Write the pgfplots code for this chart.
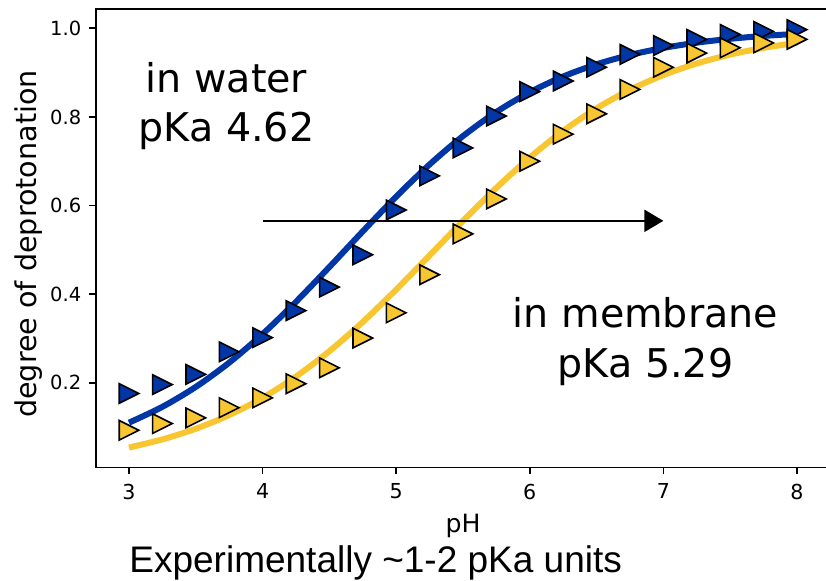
\documentclass[border=0pt]{standalone}
\usepackage{fontspec}
\setmainfont{DejaVu Sans}
\newfontfamily\lib{Liberation Sans}
\usepackage{pgfplots}
\pgfplotsset{compat=1.18}
\usetikzlibrary{arrows.meta}
\definecolor{cblue}{HTML}{0036A6}
\definecolor{cyel}{HTML}{F8C630}
\pgfdeclareplotmark{rtri}{%
  \pgfpathmoveto{\pgfqpoint{\pgfplotmarksize}{0pt}}%
  \pgfpathlineto{\pgfqpoint{-\pgfplotmarksize}{\pgfplotmarksize}}%
  \pgfpathlineto{\pgfqpoint{-\pgfplotmarksize}{-\pgfplotmarksize}}%
  \pgfpathclose\pgfusepathqfillstroke}
\begin{document}
\begin{tikzpicture}
\begin{axis}[
  at={(0,0)}, anchor=south west,
  scale only axis, width=367.4pt, height=229.25pt,
  xmin=2.75, xmax=8.25, ymin=0.009, ymax=1.0435,
  xtick={3,4,5,6,7,8},
  ytick={0.2,0.4,0.6,0.8,1.0},
  yticklabels={0.2,0.4,0.6,0.8,1.0},
  tick align=outside, major tick length=3.5pt,
  xtick pos=left, ytick pos=left,
  tick style={black, line width=0.8pt},
  axis line style={line width=0.9pt},
  tick label style={font=\fontsize{9.75}{11}\selectfont},
  xticklabel style={font=\fontsize{10.3}{12}\selectfont},
  /pgf/number format/assume math mode=true,
  yticklabel style={anchor=east, inner sep=0pt, xshift=-3.5pt},
  xticklabel style={anchor=north, inner sep=0pt, yshift=-4.5pt},
]
% fitted curves
\addplot[cblue, line width=3pt, smooth] coordinates {
(3.00,0.1101)(3.25,0.1459)(3.50,0.1908)(3.75,0.2456)(4.00,0.3101)(4.25,0.3829)
(4.50,0.4614)(4.75,0.5418)(5.00,0.6202)(5.25,0.6927)(5.50,0.7568)(5.75,0.8112)
(6.00,0.8557)(6.25,0.8912)(6.50,0.9187)(6.75,0.9398)(7.00,0.9556)(7.25,0.9675)
(7.50,0.9762)(7.75,0.9827)(8.00,0.9874)};
\addplot[cyel, line width=3pt, smooth] coordinates {
(3.00,0.0540)(3.25,0.0724)(3.50,0.0964)(3.75,0.1273)(4.00,0.1662)(4.25,0.2142)
(4.50,0.2714)(4.75,0.3374)(5.00,0.4104)(5.25,0.4875)(5.50,0.5653)(5.75,0.6399)
(6.00,0.7084)(6.25,0.7685)(6.50,0.8194)(6.75,0.8612)(7.00,0.8945)(7.25,0.9205)
(7.50,0.9406)(7.75,0.9558)(8.00,0.9673)};
% measured points
\addplot[only marks, mark=rtri, mark size=4.9pt, mark options={fill=cblue, draw=black, line width=0.8pt}] coordinates {
(3.00,0.176)(3.25,0.196)(3.50,0.219)(3.75,0.270)(4.00,0.302)(4.25,0.363)
(4.50,0.416)(4.75,0.489)(5.00,0.590)(5.25,0.667)(5.50,0.730)(5.75,0.802)
(6.00,0.857)(6.25,0.881)(6.50,0.912)(6.75,0.941)(7.00,0.961)(7.25,0.975)
(7.50,0.986)(7.75,0.993)(8.00,0.997)};
\addplot[only marks, mark=rtri, mark size=4.9pt, mark options={fill=cyel, draw=black, line width=0.8pt}] coordinates {
(3.00,0.093)(3.25,0.108)(3.50,0.121)(3.75,0.144)(4.00,0.166)(4.25,0.198)
(4.50,0.234)(4.75,0.301)(5.00,0.358)(5.25,0.444)(5.50,0.536)(5.75,0.615)
(6.00,0.700)(6.25,0.761)(6.50,0.807)(6.75,0.862)(7.00,0.912)(7.25,0.944)
(7.50,0.956)(7.75,0.967)(8.00,0.975)};
\draw[line width=1pt, -{Triangle[length=9.5pt,width=11pt]}] (axis cs:4.0,0.5655) -- (axis cs:7.0,0.5655);
\node[anchor=base, inner sep=0pt, font=\fontsize{19.8}{24}\selectfont] at (axis cs:3.73,0.856) {in water};
\node[anchor=base, inner sep=0pt, font=\fontsize{19.8}{24}\selectfont] at (axis cs:3.73,0.744) {pKa 4.62};
\node[anchor=base, inner sep=0pt, font=\fontsize{19.8}{24}\selectfont] at (axis cs:6.866,0.324) {in membrane};
\node[anchor=base, inner sep=0pt, font=\fontsize{19.8}{24}\selectfont] at (axis cs:6.866,0.212) {pKa 5.29};
\end{axis}
\node[anchor=base, inner sep=0pt, font=\fontsize{12.6}{15}\selectfont] at (183.7pt,-32.5pt) {pH};
\node[rotate=90, anchor=base, inner sep=0pt, font=\fontsize{14.3}{17}\selectfont] at (-29.8pt,111.75pt) {degree of deprotonation};
\node[anchor=base west, inner sep=0pt, font=\lib\fontsize{18.5}{22}\selectfont] at (16.7pt,-52.6pt) {Experimentally \textasciitilde1-2 pKa units};
\pgfresetboundingbox
\path[use as bounding box] (-47.8pt,-56.75pt) rectangle (365.2pt,233.75pt);
\end{tikzpicture}
\end{document}
